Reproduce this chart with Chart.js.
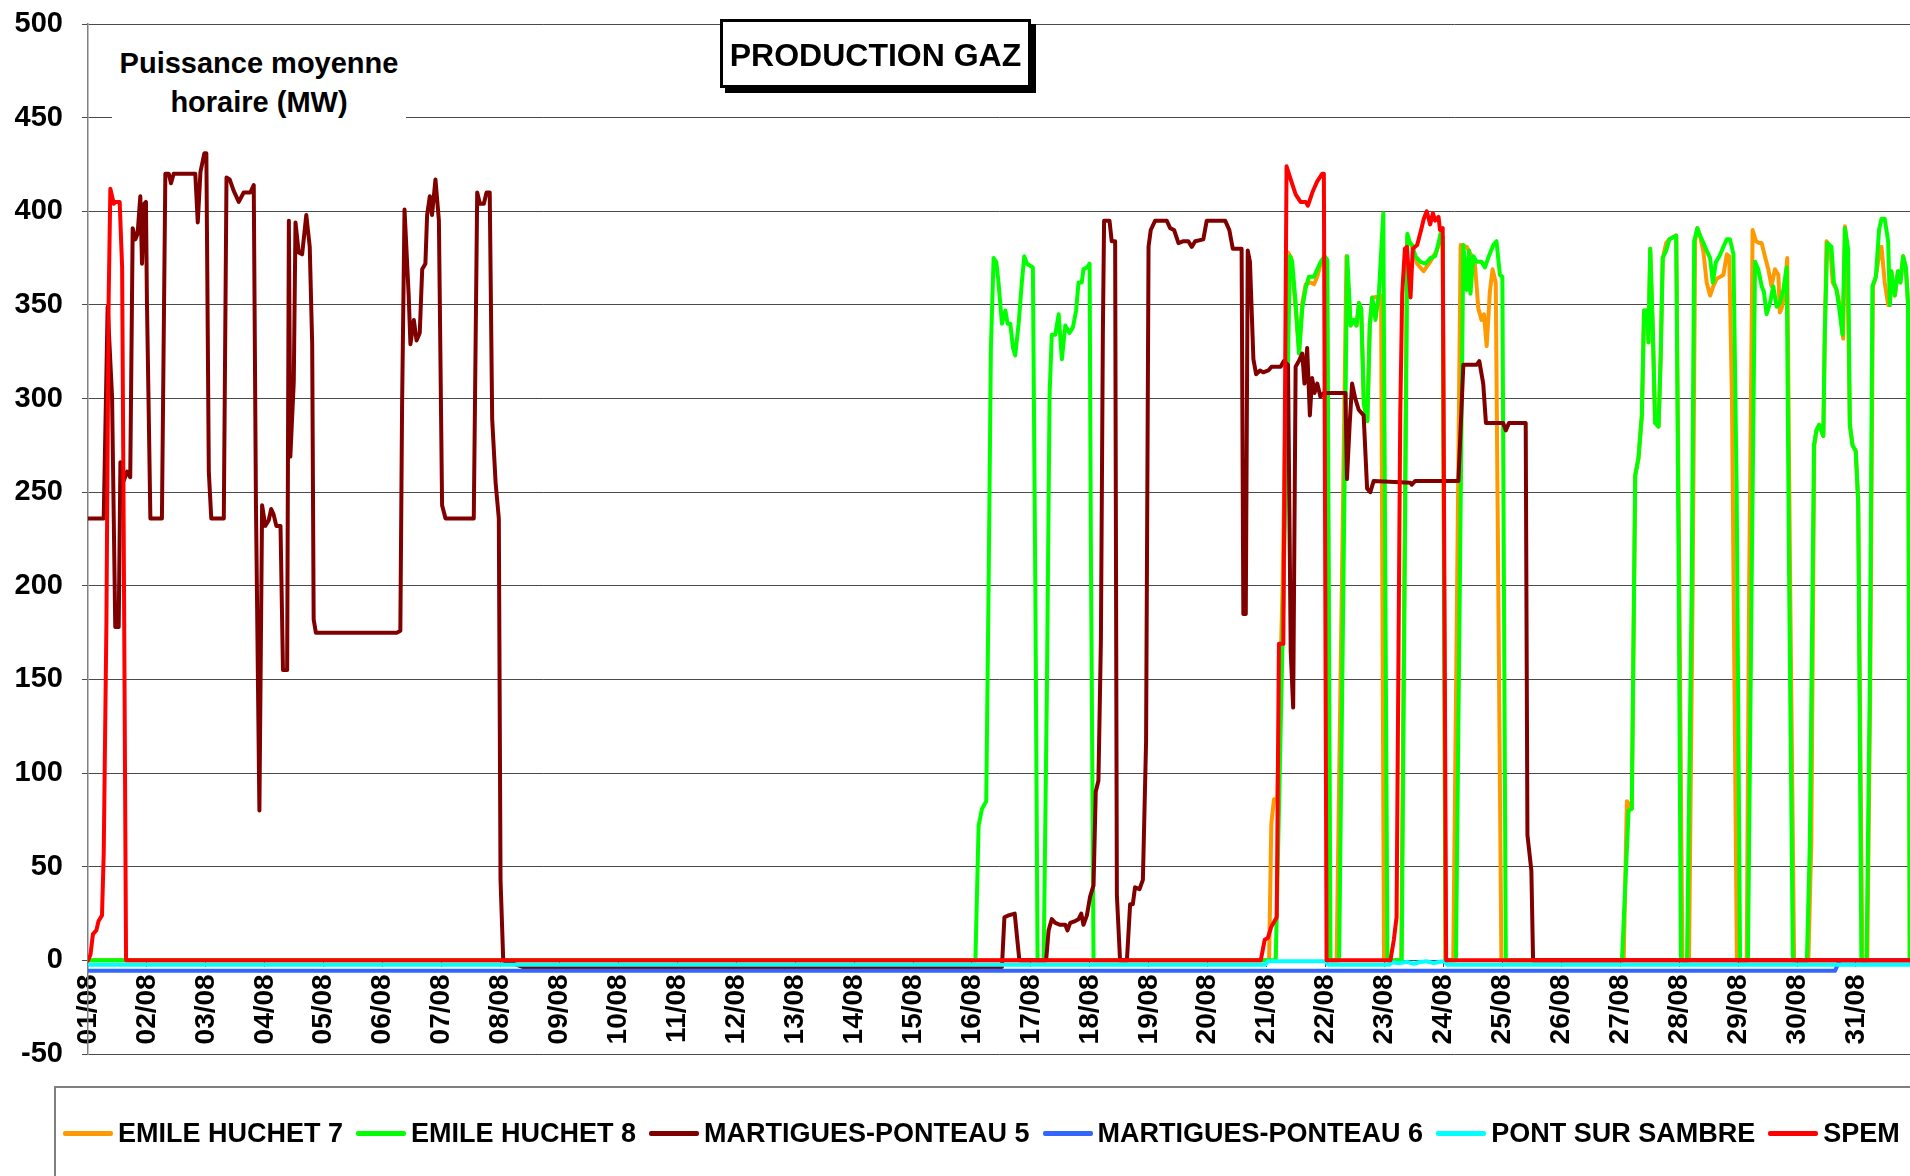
<!DOCTYPE html>
<html>
<head>
<meta charset="utf-8">
<title>Production gaz</title>
<script src="https://cdn.jsdelivr.net/npm/chart.js@4.4.1/dist/chart.umd.min.js"></script>
<style>
  body { margin: 0; background: #fff; overflow: hidden; font-family: "Liberation Sans", Arial, sans-serif; }
  #wrap { position: relative; width: 1910px; height: 1176px; overflow: hidden; }
  #chart { position: absolute; left: 0; top: 0; }
  .yLabel {
    position: absolute; left: 112px; top: 38px; width: 294px; height: 88px;
    padding-top: 6px; box-sizing: border-box; background: #fff;
    font-weight: bold; font-size: 29px; line-height: 39px; text-align: center; color: #000;
  }
  .titleBox {
    position: absolute; left: 720px; top: 19px; width: 311px; height: 69px;
    box-sizing: border-box; border: 3px solid #000; box-shadow: 5px 5px 0 #000;
    background: #fff; font-weight: bold; font-size: 32px; line-height: 66px;
    text-align: center; color: #000;
  }
  .legendFrame {
    position: absolute; left: 54px; top: 1086px; width: 1900px; height: 200px;
    box-sizing: border-box; border: 2px solid #7f7f7f; background: #fff;
  }
  .legend {
    position: absolute; left: 63px; top: 1116px; height: 34px;
    display: flex; align-items: center; white-space: nowrap;
    font-weight: bold; font-size: 27px; color: #000;
  }
  .legend .item { display: flex; align-items: center; margin-right: 13px; }
  .legend .swatch { display: inline-block; width: 50px; height: 5px; margin-right: 5px; border-radius: 2px; }
</style>
</head>
<body>
<div id="wrap">
  <div class="legendFrame"></div>
  <canvas id="chart"></canvas>
  <div class="yLabel">Puissance moyenne<br>horaire (MW)</div>
  <div class="titleBox">PRODUCTION GAZ</div>
  <div class="legend" id="legend"></div>
</div>
<script>
// Axis labels (one per day, x values are hours from 01/08 00h)
const dayLabels = ["01/08", "02/08", "03/08", "04/08", "05/08", "06/08", "07/08", "08/08", "09/08", "10/08",
  "11/08", "12/08", "13/08", "14/08", "15/08", "16/08", "17/08", "18/08", "19/08", "20/08",
  "21/08", "22/08", "23/08", "24/08", "25/08", "26/08", "27/08", "28/08", "29/08", "30/08", "31/08"]
const dayTicks = [0, 24, 48, 72, 96, 120, 144, 168, 192, 216, 240, 264, 288, 312, 336, 360,
  384, 408, 432, 456, 480, 504, 528, 552, 576, 600, 624, 648, 672, 696, 720]

const seriesNames = ["EMILE HUCHET 7", "EMILE HUCHET 8", "MARTIGUES-PONTEAU 5", "MARTIGUES-PONTEAU 6", "PONT SUR SAMBRE", "SPEM"]
const seriesColors = ["#FF9900", "#00FF00", "#800000", "#3366FF", "#00FFFF", "#FF0000"]

// EMILE HUCHET 7 (hours, MW)
const eh7Hours = [0, 481, 481.9, 483, 484.3, 486.5, 488.7, 490, 491.8, 493.2, 494.5, 495.9, 497.9, 499.3, 500.6, 502, 503.3, 504.6, 505.8,
  508.5, 512.5, 514.2, 515.5, 516.6, 517.6, 518.5, 519.6, 521, 522, 523, 523.9, 526.6, 527.8,
  534.8, 537.2, 539, 541.3, 543.9, 546.6, 549.3, 550.5, 551.7, 552.8,
  556, 559, 561.5, 563.5, 564.8, 566.2, 567.5, 568.5, 569.6, 570.9, 572, 573.3, 575.6,
  625.4, 626.7, 628.7, 630.1, 631.4, 632.8, 633.7, 635, 635.5, 636.2, 637.3, 638.2, 639.6, 640.5, 641.3, 642.7, 644, 646.8, 647.9, 649.3,
  652, 653.5, 654.5, 655.4, 656.5, 657.9, 659.2, 660.6, 661.9, 663.3, 664.7, 666, 667.4, 668.4, 669.5, 671.5,
  675.5, 676.5, 677.9, 679.3, 680.6, 681.6, 682.9, 684.3, 685.6, 687, 688.4, 689, 689.7, 690.7, 692, 693.2, 694.8,
  700.6, 701.8, 703, 703.9, 705, 706.7, 707.3, 708, 709.5, 710.5, 712.1, 713.4, 714.8, 715.5, 716.4, 717.5, 718.6, 719.9, 720.9, 722.6,
  724.6, 725.8, 726.9, 728.1, 729.7, 730.4, 731.7, 733.1, 733.8, 734.4, 735.8, 737.1, 738.1, 739.2, 740.3, 741.2, 741.9]
const eh7Values = [0, 0, 73, 86, 86, 200, 378, 375, 348, 325, 351, 361, 362, 361, 365, 372, 375, 373, 0,
  0, 376, 339, 342, 339, 351, 348, 297, 288, 339, 354, 354, 355, 0,
  0, 386, 382, 372, 368, 373, 379, 384, 386, 0,
  0, 382, 381, 376, 372, 348, 342, 345, 328, 357, 369, 362, 0,
  0, 85, 81, 259, 268, 291, 347, 347, 330, 380, 335, 287, 285, 324, 375, 383, 385, 387, 226, 0,
  0, 200, 384, 391, 387, 378, 362, 355, 360, 364, 365, 366, 377, 376, 300, 0,
  0, 200, 390, 384, 383, 383, 376, 369, 360, 369, 366, 346, 348, 354, 375, 200, 0,
  0, 62, 275, 283, 286, 280, 335, 384, 381, 362, 358, 350, 332, 392, 381, 286, 275, 272, 245, 0,
  0, 144, 360, 365, 379, 381, 362, 350, 350, 368, 355, 368, 362, 376, 370, 351, 0]

// EMILE HUCHET 8
const eh8Hours = [0, 361.4, 362.7, 364.1, 365.8, 366.8, 367.7, 368.8, 369.9, 370.8, 372.2, 373.6, 374.5, 375.6, 376.7, 377.6, 379, 380.3, 381.3, 382.4,
  384.8, 385.8, 386.7, 389.2, 390.5, 391.6, 392.5, 393.9, 395.3, 396.6, 398, 399.7, 401.1, 402.4, 403.4, 404.7, 405.4, 406.8, 407.9, 408.4, 409.5,
  483.7, 486.4, 489.5, 490.4, 491.8, 493.2, 494.5, 495.9, 497.2, 499.3, 500.6, 502, 503.6, 504.7, 506,
  509.5, 512.8, 514.2, 515.5, 516.6, 517.6, 518.5, 519.6, 521, 522, 523, 524.3, 525.7, 527.5, 529.2,
  535, 537.3, 538.3, 539.3, 540.6, 542.6, 544.7, 546.7, 548.6, 550, 550.8, 551.7, 552.9,
  557.1, 560.1, 561.5, 562.4, 563, 564.2, 565.5, 567.5, 568.9, 570.2, 572.3, 573.6, 575, 576, 577.4,
  624.7, 627.4, 628.7, 630.1, 631.4, 632.8, 633.7, 635, 635.5, 636.2, 637.3, 638.2, 639.6, 640.5, 641.3, 642.7, 644, 646.8, 647.7, 648.7,
  651.2, 653.1, 654.1, 655.4, 656.5, 657.9, 659.2, 660.6, 661.7, 663, 664.4, 666, 667.4, 668.7, 670.1, 671.4, 672.8,
  676, 677.5, 678.9, 680.2, 681.6, 682.5, 683.6, 685, 686.3, 687.7, 689, 690.4, 691.8, 692.8, 694.3,
  700, 701.2, 702.9, 703.9, 705, 706.7, 707.3, 708.3, 710, 711, 712.1, 713.4, 714.5, 715.5, 716.8, 717.5, 718.6, 719.9, 720.9, 722.2,
  724.3, 725.6, 726.7, 728.1, 729.4, 730.4, 731.7, 733.1, 733.8, 734.4, 735.8, 737.1, 738.1, 739.2, 740.3, 741.2, 741.9]
const eh8Values = [0, 0, 72, 81, 85, 204, 327, 375, 373, 362, 340, 347, 340, 340, 327, 323, 340, 362, 376, 372,
  370, 199, 0, 0, 144, 302, 334, 334, 345, 321, 339, 335, 338, 347, 362, 362, 369, 370, 372, 226, 0,
  0, 166, 376, 373, 351, 324, 348, 359, 365, 365, 369, 373, 376, 374, 0,
  0, 376, 339, 342, 339, 351, 348, 297, 288, 339, 354, 342, 356, 399, 0,
  0, 388, 383, 382, 376, 373, 372, 375, 376, 383, 388, 386, 0,
  0, 382, 358, 379, 356, 376, 373, 373, 370, 375, 382, 384, 366, 365, 0,
  0, 80, 81, 259, 268, 291, 347, 347, 330, 380, 335, 287, 285, 324, 375, 379, 385, 387, 226, 0,
  0, 200, 384, 391, 387, 383, 379, 375, 362, 373, 376, 381, 385, 385, 377, 253, 0,
  0, 199, 373, 369, 360, 357, 345, 351, 360, 349, 351, 358, 370, 199, 0,
  0, 62, 275, 283, 286, 280, 335, 383, 381, 362, 358, 346, 334, 391, 380, 286, 275, 272, 245, 0,
  0, 144, 360, 365, 390, 396, 396, 384, 350, 368, 355, 368, 362, 376, 370, 351, 0]

// MARTIGUES-PONTEAU 5
const mp5Hours = [0, 6.4, 8, 9.8, 11.1, 12.5, 13.2, 14.5, 15.9, 17.2, 18.2, 19.3, 20.2, 21.3, 22, 22.9, 23.6, 24, 24.7, 25.4,
  30.1, 31.5, 32.9, 33.8, 34.9, 43.7, 44.7, 45.8, 47.4, 48.2, 49.2, 50.2, 55.3, 56.4, 57.7, 59.3, 61.4, 63.4, 66.1, 67.5,
  68.4, 69.8, 70.9, 72.2, 73.6, 74.6, 75.6, 76.7, 78.4, 79.4, 81.1, 81.8, 82.4, 83.8, 84.5, 85.8, 87.2, 88.9, 90.3, 91.3,
  91.9, 92.8, 125.9, 127.2, 127.9, 128.9, 130.6, 131.3, 132.7, 133.8, 135.1, 136.1, 137.4, 138.1, 139.2, 140.1, 141.5, 142.9, 144.2, 145.6,
  157.1, 158.5, 159.6, 161.2, 162.3, 163.6, 164.6, 166, 167.3, 168, 169.1, 177,
  372.2, 373.2, 374.9, 377.4, 378.3, 379.3, 390.2, 391.2, 392.5, 393.9, 395.9, 398, 398.9, 400, 402, 403.4, 404.5, 405.4, 406.8, 408.1,
  409.5, 410.4, 411.5, 412.5, 413.3, 413.8, 416, 416.9, 418.3, 419, 420.3, 423.1, 424.4, 425.5, 426.4, 428.2, 429.6, 430.9, 431.9, 432.8,
  434.6, 439.3, 440.7, 442.3, 444.1, 446.1, 448.1, 449.5, 450.9, 454.2, 455.6, 463.1, 464.8, 466.2, 469.8, 470.5, 471.5, 472.3, 473.2, 474.6,
  475.7, 477.3, 478.6, 480.7, 482, 485.7, 487, 488.7,
  489.8, 490.8, 491.8, 493.1, 494.5, 495.4, 496.5, 497.6, 498.5, 499.5, 500.6, 501.9, 503.3, 512.1, 512.7, 513.8, 514.8, 516.1, 517.5, 519.5,
  520.9, 522.2, 523.6, 538.5, 539.1, 540.5, 558.1, 560.1, 565.5, 566.6, 568.2, 569.3, 576.3, 577.4, 578.7, 585.5, 586.2, 587.8, 588.5, 742]
const mp5Values = [236, 236, 349, 301, 178, 178, 266, 256, 261, 258, 391, 385, 388, 408, 372, 404, 405, 352, 295, 236,
  236, 420, 420, 415, 420, 420, 394, 421, 431, 431, 261, 236, 236, 418, 417, 411, 405, 410, 410, 414,
  243, 80, 243, 232, 235, 241, 238, 232, 232, 155, 155, 395, 269, 309, 394, 378, 377, 398, 381, 329,
  182, 175, 175, 176, 295, 401, 355, 329, 342, 331, 335, 369, 372, 398, 408, 398, 417, 395, 243, 236,
  236, 410, 404, 404, 410, 410, 289, 255, 236, 43, 0, -3.5,
  -3.5, 23, 24, 25, 13, 0, 0, 16, 22, 20, 19, 19, 16, 20, 21, 22, 25, 19, 24, 34,
  40, 90, 96, 171, 335, 395, 395, 384, 384, 35, 0, 0, 30, 30, 39, 38, 43, 117, 381, 390,
  395, 395, 391, 390, 383, 384, 384, 381, 384, 385, 395, 395, 390, 380, 380, 185, 185, 379, 373, 321,
  313, 315, 314, 315, 317, 317, 320, 318,
  165, 135, 317, 320, 324, 308, 327, 291, 311, 303, 308, 301, 303, 303, 257, 286, 308, 300, 294, 291,
  252, 250, 256, 255, 254, 256, 256, 318, 318, 320, 308, 287, 287, 283, 287, 287, 67, 48, 0, 0]

// MARTIGUES-PONTEAU 6
const mp6Hours = [0, 711.5, 713.3, 742]
const mp6Values = [-5.5, -5.5, 0, 0]

// PONT SUR SAMBRE
const pssHours = [0, 479.5, 480.5, 504, 505, 530, 531, 534, 537, 540, 542, 545, 548, 551, 552.5, 553.5, 742]
const pssValues = [-2.3, -2.3, -0.5, -0.5, -2.3, -2.3, -1, -1.5, -0.8, -1.8, -1, -0.5, -1.5, -0.6, -0.6, -2.3, -2.3]

// SPEM
const spemHours = [0, 1, 2, 3.4, 4.3, 5.7, 6.4, 7.5, 8.4, 9.1, 10.5, 11.1, 12.9, 13.9, 14.5, 15.5,
  477.6, 479.2, 480.5, 481.9, 484.1, 485, 486.8, 488.1, 489.8, 491.8, 493.8, 495.9, 496.8, 498.6, 500.6, 502.6, 503.3, 504.4,
  530.4, 531.8, 532.9, 534.4, 535.2, 536.3, 537.1, 538.6, 539.5, 541.3, 542.9, 544, 545.2, 546.6, 547.7, 548.6, 550, 550.6, 551.7, 553.1, 742]
const spemValues = [0, 3, 14, 16, 21, 24, 57, 180, 352, 412, 404, 405, 405, 370, 238, 0,
  0, 11, 12, 18, 23, 169, 169, 424, 417, 409, 405, 405, 403, 410, 416, 420, 420, 0,
  0, 11, 23, 291, 356, 380, 381, 354, 380, 382, 390, 396, 400, 393, 399, 395, 397, 390, 391, 0, 0]

function toPoints(hours, values) {
  return hours.map((h, i) => ({ x: h, y: values[i] }))
}

const seriesData = [
  toPoints(eh7Hours, eh7Values),
  toPoints(eh8Hours, eh8Values),
  toPoints(mp5Hours, mp5Values),
  toPoints(mp6Hours, mp6Values),
  toPoints(pssHours, pssValues),
  toPoints(spemHours, spemValues),
]

const fontFamily = "'Liberation Sans', Arial, sans-serif"
Chart.defaults.font.family = fontFamily

const datasets = seriesNames.map((name, i) => ({
  label: name,
  data: seriesData[i],
  borderColor: seriesColors[i],
  backgroundColor: seriesColors[i],
  borderWidth: 4,
  borderJoinStyle: "round",
  borderCapStyle: "round",
  pointRadius: 0,
  tension: 0,
  // Excel draws later series on top: SPEM last
  order: seriesNames.length - i,
}))

new Chart(document.getElementById("chart"), {
  type: "line",
  data: { datasets: datasets },
  options: {
    responsive: true,
    maintainAspectRatio: false,
    animation: false,
    devicePixelRatio: 1,
    layout: { padding: { top: 24, bottom: 122, left: 0, right: 0 } },
    plugins: {
      legend: { display: false },
      tooltip: { enabled: false },
    },
    scales: {
      x: {
        type: "linear",
        min: 0,
        max: 742,
        position: { y: 0 },
        afterBuildTicks: (axis) => {
          axis.ticks = dayTicks.map((v) => ({ value: v }))
        },
        ticks: {
          autoSkip: false,
          minRotation: 90,
          maxRotation: 90,
          padding: 8,
          color: "#000",
          font: { size: 28, weight: "bold" },
          callback: (value) => dayLabels[Math.round(value / 24)],
        },
        grid: { drawOnChartArea: false, drawTicks: true, tickLength: 6, color: "#555" },
        border: { color: "#555", width: 1 },
      },
      y: {
        min: -50,
        max: 500,
        afterFit: (scale) => {
          // fixed axis width, no extra room above/below the plot
          scale.width = 88
          scale.paddingTop = 0
          scale.paddingBottom = 0
        },
        ticks: {
          stepSize: 50,
          padding: 19,
          color: "#000",
          font: { size: 29, weight: "bold" },
        },
        grid: { color: "#4a4a4a", lineWidth: 1, tickLength: 6 },
        border: { color: "#808080", width: 1.5 },
      },
    },
  },
})

// Legend built from the series names and colours
const legend = document.getElementById("legend")
seriesNames.forEach((name, i) => {
  const item = document.createElement("span")
  item.className = "item"
  const swatch = document.createElement("span")
  swatch.className = "swatch"
  swatch.style.background = seriesColors[i]
  item.appendChild(swatch)
  item.appendChild(document.createTextNode(name))
  legend.appendChild(item)
})
</script>
</body>
</html>
